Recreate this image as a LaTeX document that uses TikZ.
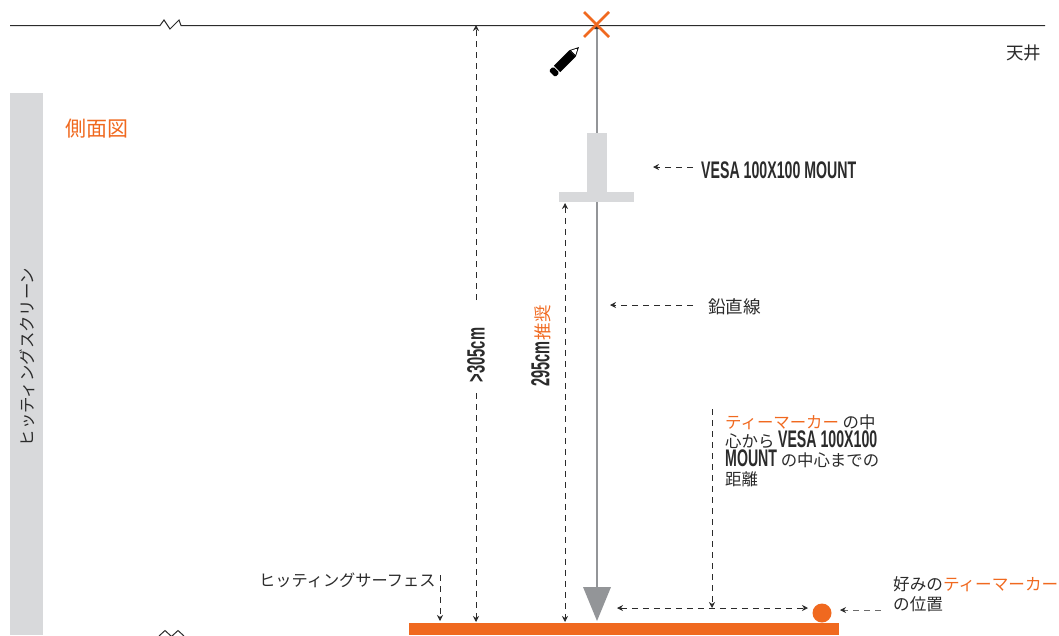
\documentclass[tikz,border=0pt]{standalone}
\usepackage{fontspec}
\setmainfont{Noto Sans CJK JP}[BoldFont={Noto Sans CJK JP}]
\newfontfamily\cond[FakeStretch=0.59]{Liberation Sans Bold}
\newfontfamily\condb[FakeStretch=0.56]{Liberation Sans Bold}
\usetikzlibrary{arrows.meta}
\definecolor{ink}{HTML}{2B2B2B}
\definecolor{tm}{HTML}{F0691F}
\definecolor{pale}{HTML}{D8D9DB}
\definecolor{plumb}{HTML}{939598}
\newcommand{\tmk}[1]{\textcolor{tm}{#1}}
\newcommand{\vesa}[1]{{\fontsize{24}{19}\cond #1}}
\tikzset{
  x=1pt,y=-1pt,
  lbl/.style={inner sep=0pt,anchor=west,text=ink,font=\fontsize{16.4}{19}\selectfont},
  dim/.style={draw=ink,line width=0.8pt,dash pattern=on 6pt off 5pt,-{Stealth[length=6pt,width=6pt,color=ink]}},
  dimb/.style={draw=ink,line width=0.8pt,dash pattern=on 6pt off 5pt,{Stealth[length=6pt,width=6pt]}-{Stealth[length=6pt,width=6pt]}},
  ceilline/.style={draw=ink,line width=1pt},
  mountpart/.style={fill=pale,draw=none}
}
\begin{document}
\begin{tikzpicture}
\useasboundingbox (0,0) rectangle (1059,635);
\clip (0,0) rectangle (1059,635);
% screen
\fill[pale] (10,93) rectangle (43,635);
\node[lbl,rotate=90,anchor=center] (screen) at (27,357) {ヒッティングスクリーン};
\node[lbl,font=\fontsize{21}{24}\selectfont,text=tm] (side) at (65,129) {側面図};
% ceiling
\coordinate (cl) at (10,25.5);
\coordinate (cr) at (1045,25.5);
\draw[ceilline] (cl) -- (160,25.5) -- (164,20) -- (170,29) -- (179,20) -- (181,25.5) -- (cr);
\draw[ceilline] (159,636) -- (165,630.5) -- (171,636) -- (172,636) -- (178,630.5) -- (184,636);
\node[lbl,font=\fontsize{17.5}{19}\selectfont] (ceil) at (1006,52.5) {天井};
% surface
\fill[tm] (409,623) rectangle (839,635);
\coordinate (surf1) at (440,621);
\coordinate (surf2) at (476,622);
\coordinate (surf3) at (565,622);
% plumb
\coordinate (ptop) at (597,25);
\coordinate (pbot) at (597,590);
\draw[plumb,line width=1.8pt] (ptop) -- (pbot);
\fill[ink] (594,29) -- (600,29) -- (597,25) -- cycle;
\fill[plumb] (583,587) -- (611,587) -- (597,621) -- cycle;
% mount
\fill[mountpart] (587,133) rectangle (607,192);
\fill[mountpart] (559,192) rectangle (634,202);
% X
\draw[tm,line width=2.6pt] (584,12) -- (609,37);
\draw[tm,line width=2.6pt] (609,12) -- (584,37);
% pencil
\begin{scope}[shift={(565.5,60.5)},rotate=45]
\fill[black,rounded corners=1.5pt] (-19,-4.5) rectangle (-13,4.5);
\fill[black] (-12,-4.5) rectangle (10,4.5);
\fill[black] (10,-4.5) -- (19,0) -- (10,4.5) -- cycle;
\fill[white] (11,-3) -- (16,-0.5) -- (16,0.5) -- (11,3) -- cycle;
\end{scope}
% labels
\node[lbl] (vlabel) at (701,170) {\vesa{VESA 100X100 MOUNT}};
\coordinate (vt) at (653,167);
\coordinate (vs) at (693,167);
\draw[dim] (vs) -- (vt);
\node[lbl,font=\fontsize{17.6}{19}\selectfont] (plabel) at (708,306.5) {鉛直線};
\coordinate (pt) at (610,305);
\coordinate (ps) at (693,305);
\draw[dim] (ps) -- (pt);
% heights
\node[inner sep=0pt,rotate=90,text=ink] (h305) at (476,355) {\fontsize{25}{19}\cond >305cm};
\coordinate (h1a) at (476,300);
\coordinate (h1b) at (476,393);
\coordinate (h1top) at (476,25);
\draw[dim] (h1a) -- (h1top);
\draw[dim] (h1b) -- (surf2);
\node[inner sep=0pt,rotate=90,text=ink] (h295) at (541,346) {{\fontsize{26}{19}\condb 295cm}\hspace{1pt}\textcolor{tm}{\fontsize{17.5}{19}\selectfont 推奨}};
\coordinate (h2top) at (565,203);
\draw[dimb] (h2top) -- (surf3);
% surface label
\node[lbl,font=\fontsize{16.2}{19}\selectfont] (slabel) at (259,580) {ヒッティングサーフェス};
\coordinate (ss) at (440,575);
\draw[dim] (ss) -- (surf1);
% distance
\node[lbl,align=left,anchor=north west] (dlabel) at (725,415) {\tmk{ティーマーカー} の中\\心から \vesa{VESA 100X100}\\\vesa{MOUNT} の中心までの\\距離};
\coordinate (ds) at (712,409);
\coordinate (dt) at (712,608);
\draw[dim] (ds) -- (dt);
\coordinate (ha) at (617,608);
\coordinate (hb) at (808,608);
\draw[dimb] (ha) -- (hb);
% tee marker
\node[circle,fill=tm,inner sep=0pt,minimum size=19pt] (tee) at (822,613) {};
\coordinate (ts) at (881,610);
\coordinate (tt) at (840,610);
\draw[dim,draw=ink!70] (ts) -- (tt);
\node[lbl,align=left,anchor=north west,font=\fontsize{16.6}{20}\selectfont] (tlabel) at (893,576.5) {好みの\tmk{ティーマーカー}\\の位置};
\end{tikzpicture}
\end{document}
